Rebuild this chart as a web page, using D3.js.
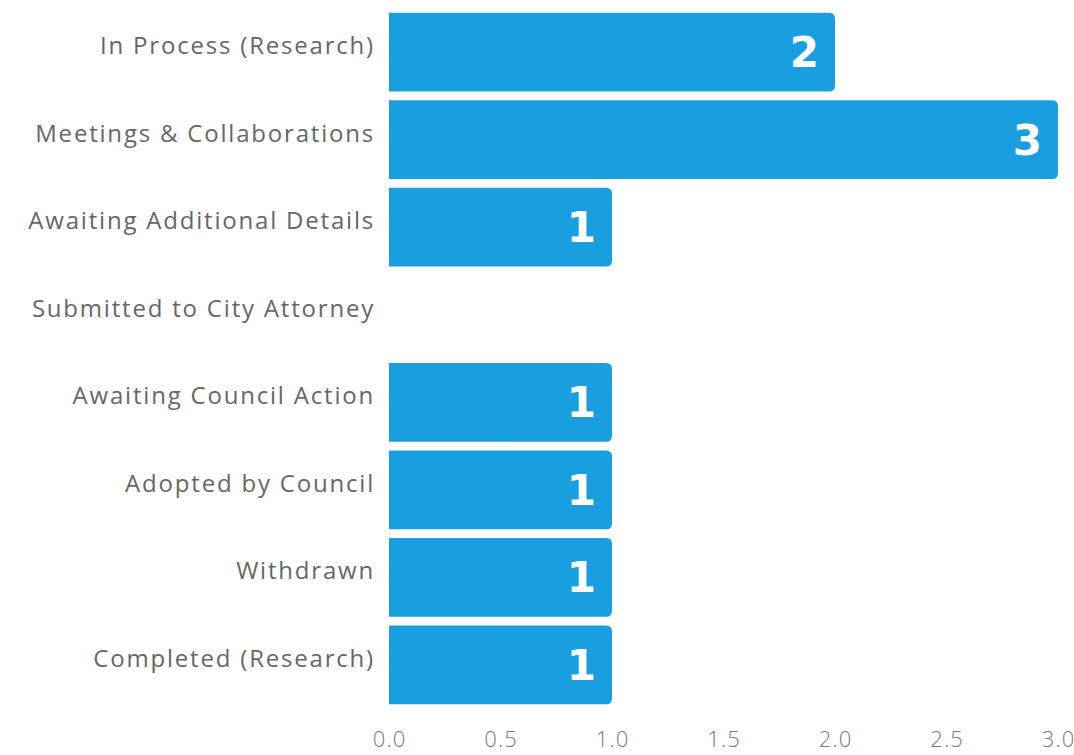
<!DOCTYPE html>
<html>
<head>
<meta charset="utf-8">
<script src="https://cdn.jsdelivr.net/npm/d3@7"></script>
<style>
  body { margin: 0; background: #fff; }
  .axis text { font-family: 'Open Sans', sans-serif; font-weight: 300; letter-spacing: 1px; }
</style>
</head>
<body>
<svg id="chart" width="1074" height="755"></svg>
<script>
let categories = ['In Process (Research)', 'Meetings & Collaborations', 'Awaiting Additional Details',
    'Submitted to City Attorney', 'Awaiting Council Action', 'Adopted by Council', 'Withdrawn', 'Completed (Research)']
let counts = [2, 3, 1, 0, 1, 1, 1, 1]
let xTicks = [0, 0.5, 1, 1.5, 2, 2.5, 3]

function main() {
    let svg = d3.select('#chart'),
        margin = {top: 4, bottom: 42, left: 389, right: 16},
        width = svg.attr('width') - margin.left - margin.right,
        height = svg.attr('height') - margin.top - margin.bottom

    let data = categories.map((c, i) => ({cat: c, value: counts[i]}))

    let xScale = d3.scaleLinear().range([margin.left, margin.left + width]).domain([0, 3]),
        yScale = d3.scaleBand().range([margin.top, margin.top + height]).domain(categories).padding(0.1)

    let r = 6
    // square on the left, rounded on the right
    function barPath(d) {
        let x0 = xScale(0), x1 = xScale(d.value), y0 = yScale(d.cat), h = yScale.bandwidth()
        return 'M' + x0 + ',' + y0 + 'H' + (x1 - r) + 'Q' + x1 + ',' + y0 + ' ' + x1 + ',' + (y0 + r)
            + 'V' + (y0 + h - r) + 'Q' + x1 + ',' + (y0 + h) + ' ' + (x1 - r) + ',' + (y0 + h)
            + 'H' + x0 + 'Z'
    }

    let shown = data.filter(d => d.value > 0)

    svg.selectAll('path.bar')
        .data(shown)
        .enter()
        .append('path')
        .attr('class', 'bar')
        .attr('fill', '#199fdf')
        .attr('d', barPath)

    svg.selectAll('text.value')
        .data(shown)
        .enter()
        .append('text')
        .attr('class', 'value')
        .attr('text-anchor', 'end')
        .attr('fill', 'white')
        .attr('font-family', 'DejaVu Sans, sans-serif')
        .attr('font-weight', 'bold')
        .attr('font-size', 42)
        .attr('x', d => xScale(d.value) - 16)
        .attr('y', d => yScale(d.cat) + yScale.bandwidth() / 2 + 15)
        .text(d => d.value)

    svg.selectAll('text.cat')
        .data(categories)
        .enter()
        .append('text')
        .attr('class', 'cat')
        .attr('text-anchor', 'end')
        .attr('fill', '#666')
        .attr('font-family', 'Open Sans, sans-serif')
        .attr('font-weight', 400)
        .attr('font-size', 24)
        .attr('letter-spacing', 1.8)
        .attr('x', margin.left - 14)
        .attr('y', c => yScale(c) + yScale.bandwidth() / 2 + 2)
        .text(c => c)

    let xAxis = svg.append('g')
        .attr('class', 'axis')
        .attr('transform', 'translate(0, ' + (height + margin.top) + ')')
        .call(d3.axisBottom(xScale).tickValues(xTicks).tickSize(0).tickPadding(18).tickFormat(d3.format('.1f')))
    xAxis.select('.domain').remove()
    xAxis.selectAll('text').attr('font-size', 22).attr('fill', '#7a7a7a')
}

main()
</script>
</body>
</html>
